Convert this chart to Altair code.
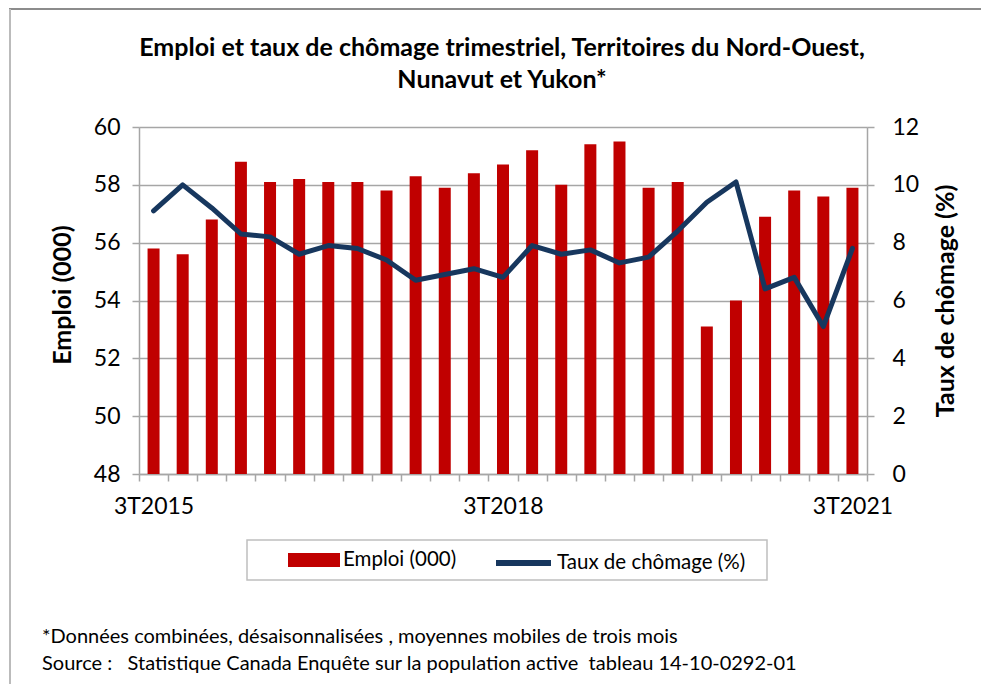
import altair as alt
import pandas as pd

quarters = ["3T2015", "4T2015", "1T2016", "2T2016", "3T2016", "4T2016", "1T2017",
            "2T2017", "3T2017", "4T2017", "1T2018", "2T2018", "3T2018", "4T2018",
            "1T2019", "2T2019", "3T2019", "4T2019", "1T2020", "2T2020", "3T2020",
            "4T2020", "1T2021", "2T2021", "3T2021"]
emploi = [55.8, 55.6, 56.8, 58.8, 58.1, 58.2, 58.1, 58.1, 57.8, 58.3, 57.9, 58.4, 58.7,
          59.2, 58.0, 59.4, 59.5, 57.9, 58.1, 53.1, 54.0, 56.9, 57.8, 57.6, 57.9]
chomage = [9.1, 10.0, 9.2, 8.3, 8.2, 7.6, 7.9, 7.8, 7.4, 6.7, 6.9, 7.1, 6.8,
           7.9, 7.6, 7.75, 7.3, 7.5, 8.4, 9.4, 10.1, 6.4, 6.8, 5.1, 7.8]
shown_labels = ["3T2015", "3T2018", "3T2021"]
left_ticks = [48, 50, 52, 54, 56, 58, 60]
right_ticks = [0, 2, 4, 6, 8, 10, 12]
series = ["Emploi (000)", "Taux de chômage (%)"]
title_lines = ["Emploi et taux de chômage trimestriel, Territoires du Nord-Ouest,",
               "Nunavut et Yukon*"]
notes = ["*Données combinées, désaisonnalisées , moyennes mobiles de trois mois",
         "Source :\u00a0\u00a0 Statistique Canada Enquête sur la population active\u00a0 tableau 14-10-0292-01"]

RED = "#C00000"
NAVY = "#17375E"
GREY = "#A6A6A6"
FONT = "Lato"

df = pd.DataFrame({"trimestre": quarters, "emploi": emploi, "chomage": chomage})

W, H = 728, 347
PL, PT = 139, 127

label_expr = ("indexof([" + ",".join("'" + s + "'" for s in shown_labels) +
              "], datum.value) >= 0 ? datum.label : ''")

x_enc = alt.X("trimestre:N", sort=quarters,
              scale=alt.Scale(paddingInner=0, paddingOuter=0),
              axis=alt.Axis(title=None, tickBand="extent", labelExpr=label_expr, labelAngle=0,
                            labelOverlap=False, tickSize=7, tickColor=GREY, domainColor=GREY,
                            domainWidth=1.5, tickWidth=1.5, labelFontSize=23, labelPadding=14,
                            labelColor="black", grid=False, labelFont=FONT))

legend_common = dict(title=None, orient="none", direction="horizontal", labelFontSize=20.5,
                     labelFont=FONT, labelColor="black", padding=0, labelOffset=3,
                     labelLimit=400)

bars = alt.Chart(df).transform_calculate(serie="'" + series[0] + "'").mark_bar(size=12).encode(
    x=x_enc,
    y=alt.Y("emploi:Q", scale=alt.Scale(domain=[48, 60], zero=False, nice=False),
            axis=alt.Axis(title=series[0], values=left_ticks, tickSize=7, tickColor=GREY,
                          domainColor=GREY, domainWidth=1.5, tickWidth=1.5, gridColor=GREY,
                          gridWidth=1.3, labelFontSize=23, labelPadding=12, labelColor="black",
                          labelFont=FONT, titleFont=FONT, titleFontSize=25, titleFontWeight="bold",
                          titleColor="black", titleAngle=270, titleX=-77, titleY=H / 2 - 6,
                          titleAlign="center", titleBaseline="middle")),
    y2=alt.datum(48),
    fill=alt.Fill("serie:N", scale=alt.Scale(domain=[series[0]], range=[RED]),
                  legend=alt.Legend(legendX=288 - PL, legendY=560 - 26 - PT,
                                    symbolType="M-1,-0.27H1V0.27H-1Z", symbolSize=2704,
                                    symbolStrokeWidth=0, **legend_common)),
)

line = alt.Chart(df).transform_calculate(serie="'" + series[1] + "'").mark_line(
    strokeWidth=5, strokeJoin="round", strokeCap="round").encode(
    x=x_enc,
    y=alt.Y("chomage:Q", scale=alt.Scale(domain=[0, 12], nice=False),
            axis=alt.Axis(orient="right", title=series[1], values=right_ticks, tickSize=7,
                          tickColor=GREY, domainColor=GREY, domainWidth=1.5, tickWidth=1.5,
                          grid=False, labelFontSize=23, labelPadding=18, labelColor="black",
                          labelFont=FONT, titleFont=FONT, titleFontSize=25, titleFontWeight="bold",
                          titleColor="black", titleAngle=270, titleX=78, titleY=H / 2,
                          titleAlign="center", titleBaseline="middle")),
    stroke=alt.Stroke("serie:N", scale=alt.Scale(domain=[series[1]], range=[NAVY]),
                      legend=alt.Legend(legendX=493 - PL, legendY=560 - 27.5 - PT,
                                        symbolType="stroke", symbolSize=3025,
                                        symbolStrokeWidth=6, **legend_common)),
)

one_row = pd.DataFrame({"k": [0]})

legend_box = alt.Chart(one_row).mark_rect(
    fill="transparent", stroke="#BFBFBF", strokeWidth=1.5).encode(
    x=alt.value(247 - PL), x2=alt.value(767 - PL), y=alt.value(540 - PT), y2=alt.value(580 - PT))

title_layer = alt.Chart(pd.DataFrame({"t": ["\n".join(title_lines)]})).mark_text(
    align="center", baseline="middle", fontSize=25, font=FONT, fontWeight="bold",
    color="black", lineBreak="\n", lineHeight=32).encode(
    text="t:N", x=alt.value(W / 2 - 1), y=alt.value(48 - PT))

note_layer = alt.Chart(pd.DataFrame({"note": ["\n".join(notes)]})).mark_text(
    align="left", baseline="middle", fontSize=20, font=FONT, color="black",
    lineBreak="\n", lineHeight=27).encode(
    text="note:N", x=alt.value(42 - PL), y=alt.value(637 - PT))

top_border = alt.Chart(one_row).mark_rule(color="#8C8C8C", strokeWidth=2).encode(
    x=alt.value(9 - PL), x2=alt.value(981 - PL), y=alt.value(9 - PT))
left_border = alt.Chart(one_row).mark_rule(color="#BBBBBB", strokeWidth=2).encode(
    x=alt.value(10 - PL), y=alt.value(9 - PT), y2=alt.value(684 - PT))

chart = alt.layer(bars, line, legend_box, title_layer, note_layer, top_border,
                  left_border).resolve_scale(
    y="independent"
).properties(
    width=W, height=H,
    padding={"left": PL, "top": PT, "right": 981 - PL - W, "bottom": 684 - PT - H},
    autosize="none",
).configure_view(stroke=None).configure(background="white")

chart.save("out.html", embed_options={"renderer": "svg", "actions": False})
